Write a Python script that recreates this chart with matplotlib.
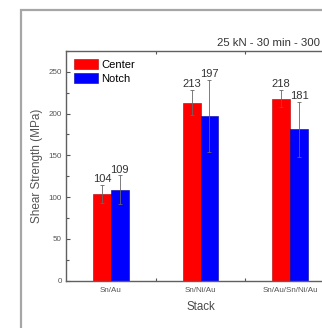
import matplotlib
matplotlib.use("Agg")
import matplotlib.pyplot as plt
from matplotlib.patches import Rectangle, Patch
from matplotlib.ticker import MultipleLocator, FixedLocator
import numpy as np

plt.rcParams['font.family'] = ['Liberation Sans', 'DejaVu Sans']

stacks = ["Sn/Au", "Sn/Ni/Au", "Sn/Au/Sn/Ni/Au"]
center = [104, 213, 218]
notch = [109, 197, 181]
center_err = [11, 15, 10]
notch_err = [17, 43, 33]
series_names = ["Center", "Notch"]
title = "25 kN - 30 min - 300"

W, H = 322, 328
fig = plt.figure(figsize=(W / 100, H / 100), dpi=100)
fig.patch.set_facecolor("white")

# outer grey frame
fig.patches.append(Rectangle((21 / W, -0.1), 1.2, 1 - 10 / H + 0.1,
                             transform=fig.transFigure, fill=False,
                             edgecolor="#a6a6a6", linewidth=1.6))

ax = fig.add_axes([66 / W, 47.5 / H, 269 / W, 229.5 / H])
x = np.arange(1, len(stacks) + 1)
bw = 0.2
grey = "#555555"

ax.bar(x - bw / 2, center, bw, color="#ff0000", edgecolor="#b00000", linewidth=0.4,
       label=series_names[0], zorder=2)
ax.bar(x + bw / 2, notch, bw, color="#0000ff", edgecolor="#0000a0", linewidth=0.4,
       label=series_names[1], zorder=2)
ax.errorbar(x - bw / 2, center, yerr=center_err, fmt="none", ecolor="#666666",
            elinewidth=0.6, capsize=1.5, capthick=0.6, zorder=3)
ax.errorbar(x + bw / 2, notch, yerr=notch_err, fmt="none", ecolor="#666666",
            elinewidth=0.6, capsize=1.5, capthick=0.6, zorder=3)

for xi, v, e in zip(x - bw / 2, center, center_err):
    ax.text(xi, v + e + 1, f"{v}", ha="center", va="bottom", fontsize=8, color="#333333")
for xi, v, e in zip(x + bw / 2, notch, notch_err):
    ax.text(xi, v + e + 1, f"{v}", ha="center", va="bottom", fontsize=8, color="#333333")

ax.set_xlim(0.5, 3.5)
ax.set_ylim(0, 275)
ax.set_xticks(x)
ax.set_xticklabels(stacks, fontsize=5.8, color=grey)
ax.xaxis.set_minor_locator(FixedLocator([1.5, 2.5]))
ax.yaxis.set_major_locator(MultipleLocator(50))
ax.yaxis.set_minor_locator(MultipleLocator(25))
ax.tick_params(axis="both", which="both", direction="in", colors=grey,
               top=True, right=False, labelsize=5.8, width=0.8)
ax.tick_params(axis="both", which="major", length=3, pad=3)
ax.tick_params(axis="both", which="minor", length=2)
ax.tick_params(axis="x", which="major", length=0, pad=5)

for s in ax.spines.values():
    s.set_color("#606060")
    s.set_linewidth(1.0)

ax.set_xlabel("Stack", fontsize=8.3, color="#4a4a4a", labelpad=5)
ax.set_ylabel("Shear Strength (MPa)", fontsize=8.5, color="#555555", labelpad=4)
ax.text(0.561, 1.012, title, transform=ax.transAxes, ha="left", va="bottom",
        fontsize=8.2, color="#333333")

handles = [Patch(facecolor="#ff0000", edgecolor="#b00000", linewidth=0.4),
           Patch(facecolor="#0000ff", edgecolor="#0000a0", linewidth=0.4)]
ax.legend(handles, series_names, loc="upper left", frameon=False, fontsize=8,
          handlelength=2.2, handleheight=1.1, handletextpad=0.3, labelspacing=0.25,
          borderaxespad=0.3, bbox_to_anchor=(0.0, 1.0))

fig.savefig("out.png", dpi=100)
